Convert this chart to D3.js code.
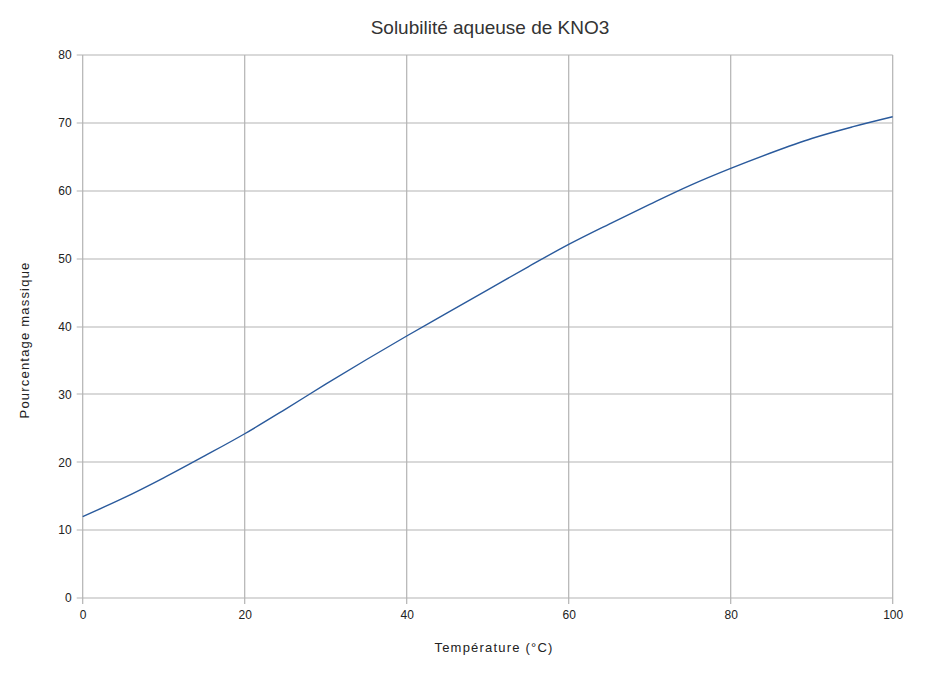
<!DOCTYPE html>
<html><head><meta charset="utf-8">
<script src="https://cdn.jsdelivr.net/npm/d3@7"></script>
<style>body{margin:0;background:#fff}svg{display:block}</style>
</head><body>
<svg id="c" width="949" height="679"></svg>
<script>
const temperatures = [0,5,10,15,20,25,30,35,40,45,50,55,60,65,70,75,80,85,90,95,100];
const massPercent  = [12.0,14.7,17.7,20.9,24.2,27.8,31.5,35.1,38.6,42.0,45.4,48.8,52.1,55.1,58.0,60.8,63.3,65.6,67.7,69.4,70.9];
const xTicks = [0,20,40,60,80,100];
const yTicks = [0,10,20,30,40,50,60,70,80];
const title = "Solubilité aqueuse de KNO3";
const xLabel = "Température  (°C)";
const yLabel = "Pourcentage massique";

const svg = d3.select("#c");
const L = 82.7, R = 892.7, T = 55, B = 598;
const x = d3.scaleLinear().domain([0,100]).range([L,R]);
const y = d3.scaleLinear().domain([0,80]).range([B,T]);
const grid = "#b3b3b3";
const font = "'Liberation Sans', Arial, sans-serif";

// grid
svg.append("g").selectAll("line").data(yTicks).join("line")
  .attr("x1",L-6).attr("x2",R).attr("y1",d=>y(d)+0.5|0).attr("y2",d=>y(d)+0.5|0)
  .attr("stroke",grid).attr("stroke-width",1.2);
svg.append("g").selectAll("line").data(xTicks).join("line")
  .attr("y1",T).attr("y2",B+6).attr("x1",d=>x(d)).attr("x2",d=>x(d))
  .attr("stroke",grid).attr("stroke-width",1.2);

// tick labels via axes
const ya = svg.append("g").attr("transform",`translate(${L},0)`)
  .call(d3.axisLeft(y).tickValues(yTicks).tickSize(0).tickPadding(11));
const xa = svg.append("g").attr("transform",`translate(0,${B})`)
  .call(d3.axisBottom(x).tickValues(xTicks).tickSize(0).tickPadding(12));
[ya,xa].forEach(g=>{
  g.select(".domain").remove();
  g.selectAll("text").attr("font-family",font).attr("font-size",12).attr("fill","#222");
});

// line
svg.append("path").datum(temperatures.map((t,i)=>[t,massPercent[i]]))
  .attr("fill","none").attr("stroke","#2a5a9c").attr("stroke-width",1.4)
  .attr("d",d3.line().x(d=>x(d[0])).y(d=>y(d[1])).curve(d3.curveMonotoneX));

// texts
svg.append("text").attr("x",490).attr("y",34).attr("text-anchor","middle")
  .attr("font-family",font).attr("font-size",19).attr("fill","#333").text(title);
svg.append("text").attr("x",494).attr("y",652).attr("text-anchor","middle")
  .attr("font-family",font).attr("font-size",13).attr("fill","#222")
  .attr("letter-spacing",1.2).text(xLabel);
svg.append("text").attr("transform","translate(29,340) rotate(-90)").attr("text-anchor","middle")
  .attr("font-family",font).attr("font-size",13).attr("fill","#222")
  .attr("letter-spacing",1.2).text(yLabel);
</script>
</body></html>
